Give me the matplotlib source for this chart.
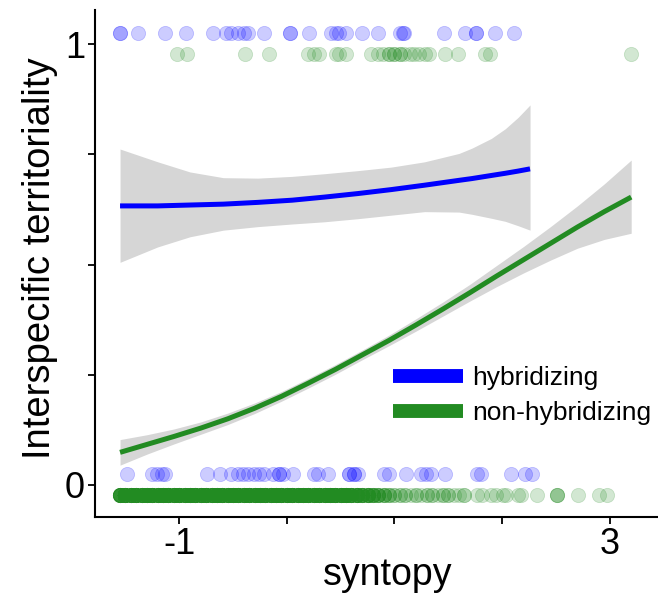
import matplotlib
matplotlib.use('Agg')
import matplotlib.pyplot as plt
from matplotlib.lines import Line2D
import numpy as np

plt.rcParams['font.family'] = ['Liberation Sans', 'DejaVu Sans']

# ---- data ----
# observed syntopy values, territorial (1) / not territorial (0)
hyb_x1 = [-1.551, -1.551, -1.383, -1.131, -0.935, -0.682, -0.570, -0.523, -0.458, -0.402,
          -0.364, -0.215, 0.028, 0.028, 0.206, 0.411, 0.458, 0.486, 0.551, 0.701,
          0.850, 1.047, 1.075, 1.093, 1.458, 1.654, 1.757, 1.757, 1.935, 2.112]
hyb_x0 = [-1.486, -1.252, -1.206, -1.159, -1.131, -0.738, -0.617, -0.523, -0.458, -0.411,
          -0.364, -0.308, -0.262, -0.215, -0.131, -0.075, -0.075, -0.037, 0.056, 0.252,
          0.290, 0.383, 0.579, 0.579, 0.626, 0.626, 0.664, 0.907, 0.953, 1.103,
          1.243, 1.290, 1.336, 1.467, 1.766, 1.804, 2.084, 2.215, 2.280]
non_x1 = [-1.019, -0.925, -0.393, -0.168, 0.196, 0.252, 0.299, 0.458, 0.486, 0.551,
          0.785, 0.850, 0.897, 0.953, 0.953, 1.000, 1.000, 1.047, 1.047, 1.093, 1.140,
          1.178, 1.224, 1.280, 1.318, 1.467, 1.589, 1.841, 1.888, 3.196]
# dense part of the non-hybridizing zeros: position and number of points
non_x0_pos = [-1.55, -1.50, -1.45, -1.40, -1.35, -1.30, -1.25, -1.20, -1.15, -1.10,
              -1.05, -1.00, -0.95, -0.90, -0.85, -0.80, -0.75, -0.70, -0.65, -0.60,
              -0.55, -0.50, -0.45, -0.40, -0.35, -0.30, -0.25, -0.20, -0.15, -0.10,
              -0.05, 0.00, 0.05, 0.10, 0.15, 0.20, 0.25, 0.30, 0.35, 0.40,
              0.45, 0.50, 0.55, 0.60, 0.65, 0.70, 0.75, 0.80, 0.85, 0.90,
              0.95, 1.00, 1.05, 1.10, 1.15, 1.20, 1.25, 1.30, 1.35, 1.40,
              1.45, 1.50, 1.55, 1.60, 1.65,
              1.766, 1.813, 1.897, 1.944, 2.009, 2.037, 2.150, 2.178, 2.327, 2.514,
              2.710, 2.897, 2.972]
non_x0_n = [12, 12, 12, 12, 12, 12, 12, 12, 12, 12,
            12, 12, 12, 12, 12, 12, 12, 12, 12, 12,
            12, 12, 12, 12, 12, 12, 12, 12, 12, 12,
            12, 12, 12, 12, 12, 12, 12, 12, 12, 12,
            12, 12, 12, 10, 10, 8, 8, 6, 5, 4,
            3, 2, 2, 2, 1, 2, 1, 2, 2, 1,
            2, 2, 1, 1, 2,
            1, 1, 1, 1, 1, 1, 1, 1, 1, 3,
            1, 1, 1]

# fitted logistic curves and confidence bands
hyb_fit_x  = [-1.55, -1.20, -0.90, -0.59, -0.27, 0.05, 0.35, 0.66, 0.97, 1.28,
              1.60, 1.72, 1.90, 2.03, 2.15, 2.26]
hyb_fit_y  = [0.633, 0.633, 0.635, 0.637, 0.641, 0.646, 0.653, 0.661, 0.670, 0.680,
              0.691, 0.695, 0.702, 0.707, 0.712, 0.717]
hyb_fit_lo = [0.505, 0.540, 0.563, 0.578, 0.586, 0.592, 0.597, 0.604, 0.612, 0.620,
              0.619, 0.614, 0.605, 0.598, 0.588, 0.578]
hyb_fit_hi = [0.762, 0.733, 0.710, 0.697, 0.696, 0.700, 0.706, 0.713, 0.721, 0.733,
              0.752, 0.764, 0.786, 0.808, 0.834, 0.862]

non_fit_x  = [-1.55, -1.30, -1.05, -0.80, -0.55, -0.30, -0.05, 0.20, 0.45, 0.70,
              0.95, 1.20, 1.45, 1.70, 1.95, 2.20, 2.45, 2.70, 2.95, 3.20]
non_fit_y  = [0.074, 0.092, 0.110, 0.129, 0.150, 0.174, 0.201, 0.231, 0.262, 0.295,
              0.328, 0.363, 0.399, 0.436, 0.474, 0.511, 0.548, 0.585, 0.620, 0.653]
non_fit_lo = [0.045, 0.070, 0.093, 0.115, 0.137, 0.162, 0.190, 0.220, 0.251, 0.284,
              0.316, 0.349, 0.383, 0.417, 0.450, 0.481, 0.510, 0.537, 0.557, 0.571]
non_fit_hi = [0.103, 0.114, 0.127, 0.143, 0.163, 0.186, 0.212, 0.242, 0.273, 0.306,
              0.340, 0.377, 0.415, 0.455, 0.498, 0.541, 0.586, 0.633, 0.683, 0.737]

groups = ['hybridizing', 'non-hybridizing']
colors = {'hybridizing': '#0000FF', 'non-hybridizing': '#228B22'}
yoff = {'hybridizing': 0.026, 'non-hybridizing': -0.022}

fig = plt.figure(figsize=(6.58, 5.97), dpi=100)
ax = fig.add_axes([0.144, 0.134, 0.856, 0.849])

# confidence bands
ax.fill_between(hyb_fit_x, hyb_fit_lo, hyb_fit_hi, color='#D6D6D6', lw=0, zorder=1)
ax.fill_between(non_fit_x, non_fit_lo, non_fit_hi, color='#D6D6D6', lw=0, zorder=1)

# points
non_x0 = np.repeat(non_x0_pos, non_x0_n)
pts = [('hybridizing', hyb_x1, 1), ('hybridizing', hyb_x0, 0),
       ('non-hybridizing', non_x1, 1), ('non-hybridizing', non_x0, 0)]
for g, xs, resp in pts:
    ys = np.full(len(xs), resp + yoff[g])
    ax.scatter(xs, ys, s=105, color=colors[g], alpha=0.2, lw=0.6, zorder=2)

# fitted curves
ax.plot(hyb_fit_x, hyb_fit_y, color=colors['hybridizing'], lw=3.6, zorder=3,
        solid_capstyle='butt')
ax.plot(non_fit_x, non_fit_y, color=colors['non-hybridizing'], lw=3.6, zorder=3,
        solid_capstyle='butt')

ax.set_xlim(-1.785, 3.449)
ax.set_ylim(-0.0726, 1.077)

ax.set_xticks([-1, 3])
ax.set_xticklabels(['-1', '3'])
ax.set_xticks([0, 1, 2], minor=True)
ax.set_yticks([0, 0.25, 0.5, 0.75, 1])
ax.set_yticklabels(['0', '', '', '', '1'])

for s in ['top', 'right']:
    ax.spines[s].set_visible(False)
for s in ['left', 'bottom']:
    ax.spines[s].set_linewidth(1.5)
ax.tick_params(which='both', direction='out', length=5, width=1.3, colors='black',
               labelsize=26, pad=2)

ax.set_xlabel('syntopy', fontsize=27, labelpad=0)
ax.xaxis.set_label_coords(0.52, -0.078)
ax.set_ylabel('Interspecific territoriality', fontsize=27.5)
ax.yaxis.set_label_coords(-0.065, 0.51)

handles = [Line2D([], [], color=colors[g], lw=10, solid_capstyle='butt') for g in groups]
ax.legend(handles, groups, loc='upper left', bbox_to_anchor=(0.53, 0.298), frameon=False,
          fontsize=19, handlelength=2.65, handletextpad=0.35, labelspacing=0.42,
          borderpad=0, borderaxespad=0)

fig.savefig('out.png', dpi=100)
